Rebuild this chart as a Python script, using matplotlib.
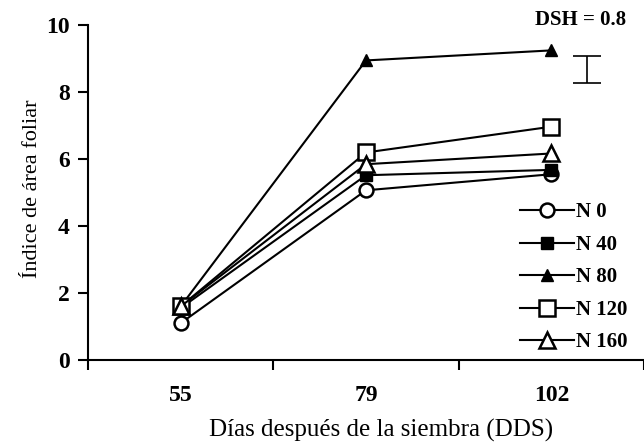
import numpy as np
import matplotlib.pyplot as plt

# Leaf area index by nitrogen dose
dias = ['55', '79', '102']
n0 = [1.1, 5.07, 5.55]
n40 = [1.55, 5.52, 5.68]
n80 = [1.6, 8.95, 9.25]
n120 = [1.6, 6.2, 6.97]
n160 = [1.6, 5.85, 6.17]
dsh = 0.8

plt.rcParams['font.family'] = ['Liberation Serif', 'DejaVu Serif']

fig = plt.figure(figsize=(6.44, 4.42), dpi=100)
ax = fig.add_axes([0.1366, 0.1855, 0.8634, 0.7573])

x = np.arange(len(dias)) + 0.5
lw = 1.5
ax.plot(x, n0, '-o', color='black', lw=lw, ms=10, mfc='white', mew=1.8, label='N 0', zorder=3)
ax.plot(x, n40, '-s', color='black', lw=lw, ms=9, label='N 40', zorder=3)
ax.plot(x, n80, '-^', color='black', lw=lw, ms=8, label='N 80', zorder=3)
ax.plot(x, n120, '-s', color='black', lw=lw, ms=11, mfc='white', mew=1.8, label='N 120', zorder=3)
ax.plot(x, n160, '-^', color='black', lw=lw, ms=11, mfc='white', mew=1.8, label='N 160', zorder=3)

# DSH bar
ax.errorbar(2.69, 8.67, yerr=dsh / 2, color='black', lw=1.2, capsize=10, capthick=1.2)
ax.text(2.905, 10.15, 'DSH = 0.8', ha='right', va='center', fontsize=15,
        fontweight='bold', clip_on=False)

ax.set_xlim(0, 2.97)
ax.set_ylim(0, 10)
ax.set_xticks([0, 1, 2, 3])
ax.set_xticklabels([])
ax.set_xticks(x, minor=True)
ax.set_xticklabels(dias, minor=True, fontsize=17, fontweight='bold')
ax.tick_params(axis='x', which='minor', length=0, pad=18)
ax.tick_params(axis='x', which='major', direction='out', length=7, width=1.5)
ax.set_yticks([0, 2, 4, 6, 8, 10])
ax.set_yticklabels(['0', '2', '4', '6', '8', '10'], fontsize=17, fontweight='bold')
ax.tick_params(axis='y', direction='out', length=7, width=1.5, pad=6)

for s in ['top', 'right']:
    ax.spines[s].set_visible(False)
for s in ['left', 'bottom']:
    ax.spines[s].set_linewidth(1.5)

ax.set_xlabel('Días después de la siembra (DDS)', fontsize=18)
ax.xaxis.set_label_coords(0.527, -0.176)
ax.set_ylabel('Índice de área foliar', fontsize=16)
ax.yaxis.set_label_coords(-0.083, 0.512)

leg = ax.legend(loc='upper left', bbox_to_anchor=(0.743, 0.527), frameon=False,
                handlelength=2.6, handletextpad=0.1, labelspacing=0.6,
                prop={'weight': 'bold', 'size': 15})

plt.savefig('out.png', dpi=100)
